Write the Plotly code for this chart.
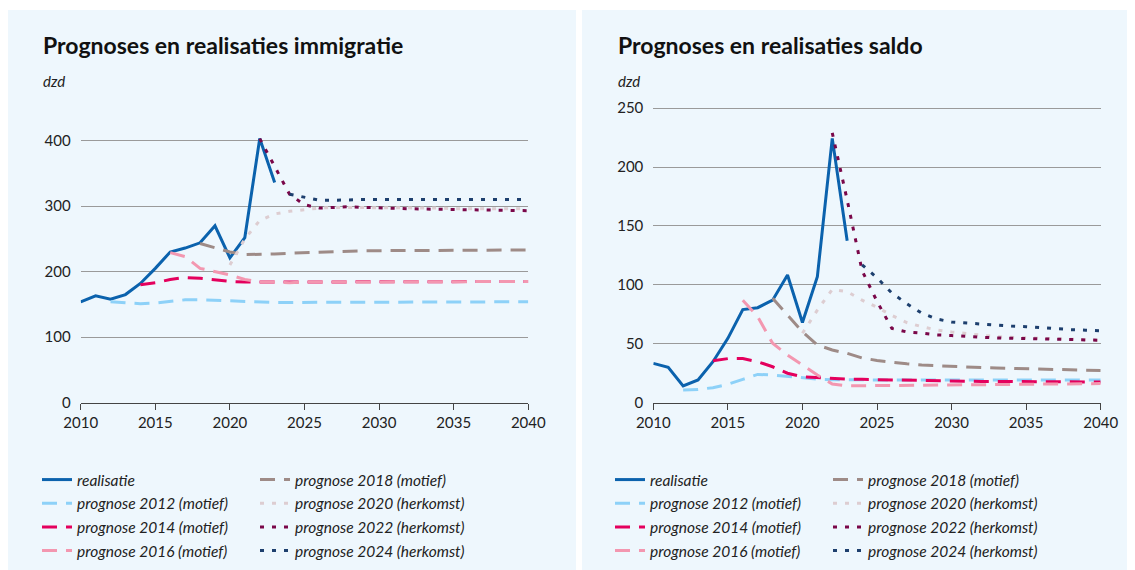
import plotly.graph_objects as go

W, H = 1135, 570
PAGE_OFFSET = 8  # the page body margin shifts the figure by 8px

years_real = list(range(2010, 2024))
imm_real = [154, 163, 158, 165, 182, 205, 230, 236, 244, 270, 221, 252, 403, 336]
sal_real = [33.4, 30, 14.2, 19.3, 34.8, 54.6, 79, 80.6, 87, 108.3, 68, 107, 224.3, 137.5]

# immigratie prognoses (dzd), first year = prognosis year, up to 2040
imm_2012 = [154, 153, 151, 152, 155, 157, 157, 156, 155, 154, 153, 153, 153, 153, 153, 153, 153,
            153, 153, 153, 153, 153, 153, 153, 154, 154, 154, 154, 154]
imm_2014 = [180, 183, 188, 191, 190, 187, 185, 184, 184, 184, 184, 185, 185, 185, 185, 185, 185,
            185, 185, 185, 185, 185, 185, 185, 185, 185, 185]
imm_2016 = [229, 223, 205, 200, 195, 188, 184, 184, 183, 184, 184, 184, 184, 184, 184, 184, 184,
            184, 184, 185, 185, 185, 185, 185, 185]
imm_2018 = [243, 236, 230, 226, 226, 227, 228, 229, 230, 231, 231.5, 232, 232, 232, 232.5, 232.5,
            233, 233, 233, 233, 233, 233, 233]
imm_2020 = [210, 250, 278, 288, 292, 295, 297, 298, 298, 298, 298, 297, 297, 297, 297, 296, 296,
            296, 296, 296, 296]
imm_2022 = [403, 360, 318, 302, 297, 298, 299, 298, 297, 296.5, 296, 295.5, 295, 294.5, 294, 294,
            293.5, 293, 293]
imm_2024 = [318, 313, 309, 309, 310, 310, 310, 310, 310, 310, 310, 310, 310, 310, 310, 310, 310]

# saldo prognoses (dzd)
sal_2012 = [10.8, 11.3, 12.7, 15.6, 19.8, 24, 23.5, 22.4, 21, 20, 19.5, 19.3, 19.3, 19.3, 19.3,
            19.3, 19.3, 19.3, 19.3, 19.3, 19.3, 19.3, 19.3, 19.3, 19.3, 19.3, 19.3, 19.3, 19.3]
sal_2014 = [35.6, 37.4, 37.4, 34.8, 30.5, 25, 22, 21.2, 20.6, 20, 19.8, 19.5, 19.3, 19, 18.8, 18.5,
            18.3, 18.2, 18, 18, 17.9, 17.8, 17.8, 17.7, 17.7, 17.6, 17.6]
sal_2016 = [87, 73, 50.4, 40.5, 32, 23.5, 15.9, 14.4, 14.4, 14.5, 14.6, 14.8, 15, 15.1, 15.2, 15.3,
            15.4, 15.5, 15.6, 15.7, 15.8, 15.9, 16, 16.1, 16.2]
sal_2018 = [88.6, 74.4, 60.2, 49, 44.7, 41.9, 38, 35.8, 34.3, 33, 32, 31.3, 30.8, 30.3, 29.8, 29.4,
            29, 28.6, 28.2, 28, 27.8, 27.6, 27.4]
sal_2020 = [58.9, 78.6, 96.2, 94.2, 87, 81, 74, 68, 64.5, 61.7, 60, 58.5, 57, 56, 55.5, 55, 54.6,
            54.2, 53.8, 53.4, 53]
sal_2022 = [229, 172, 112, 86, 63, 60, 59, 57.5, 57, 56, 55.5, 55, 54.7, 54.5, 54.2, 54, 53.7,
            53.4, 53]
sal_2024 = [117, 106, 93, 84, 76, 71, 68.5, 67.5, 67, 66, 65, 64.5, 63.5, 63, 62, 61.5, 61]

names = ["realisatie", "prognose 2012 (motief)", "prognose 2014 (motief)", "prognose 2016 (motief)",
         "prognose 2018 (motief)", "prognose 2020 (herkomst)", "prognose 2022 (herkomst)",
         "prognose 2024 (herkomst)"]
starts = [2010, 2012, 2014, 2016, 2018, 2020, 2022, 2024]
colors = ["#0b62ad", "#8dd1f8", "#e4005d", "#f397b0", "#9e8b87", "#ddcdd1", "#7a0749", "#1d3f6e"]
dashes = ["solid", "15px,9px", "15px,9px", "15px,9px", "15px,9px", "4px,8px", "4px,8px", "4px,8px"]

imm_series = [imm_real, imm_2012, imm_2014, imm_2016, imm_2018, imm_2020, imm_2022, imm_2024]
sal_series = [sal_real, sal_2012, sal_2014, sal_2016, sal_2018, sal_2020, sal_2022, sal_2024]

FONT = "Lato"
fig = go.Figure()

for panel, series in enumerate([imm_series, sal_series]):
    xa = "x" if panel == 0 else "x2"
    ya = "y" if panel == 0 else "y2"
    leg = ["legend", "legend2"] if panel == 0 else ["legend3", "legend4"]
    for i, vals in enumerate(series):
        yrs = list(range(starts[i], starts[i] + len(vals)))
        fig.add_trace(go.Scatter(
            x=yrs, y=vals, mode="lines", name=names[i],
            line=dict(color=colors[i], width=3, dash=dashes[i]),
            xaxis=xa, yaxis=ya,
            legend=leg[0] if i < 4 else leg[1],
            legendgroup=f"p{panel}g{i}",
            hoverinfo="skip",
        ))

# positions are given in page pixels and converted to paper fractions
def px_x(v):
    return (v - PAGE_OFFSET) / W

def px_y(v):
    return 1 - (v - PAGE_OFFSET) / H

axis_x = dict(range=[2010, 2040], tickvals=list(range(2010, 2041, 5)), showgrid=False,
              showline=True, linecolor="#444", linewidth=1, ticks="outside", ticklen=6,
              tickcolor="#444", tickfont=dict(family=FONT, size=15, color="#222"),
              zeroline=False, fixedrange=True, automargin=False)
axis_y = dict(showgrid=True, gridcolor="#9a9a9a", gridwidth=1, showline=False, ticks="",
              zeroline=False, tickfont=dict(family=FONT, size=15, color="#222"),
              ticklabelstandoff=9, fixedrange=True, automargin=False)

fig.update_layout(
    width=W, height=H,
    margin=dict(l=0, r=0, t=0, b=0, autoexpand=False),
    paper_bgcolor="white",
    plot_bgcolor="rgba(0,0,0,0)",
    xaxis=dict(axis_x, domain=[px_x(80.7), px_x(528.3)], anchor="y"),
    yaxis=dict(axis_y, domain=[px_y(402.7), px_y(120.9)], range=[0, 430],
               tickvals=[0, 100, 200, 300, 400], anchor="x"),
    xaxis2=dict(axis_x, domain=[px_x(653.3), px_x(1100.7)], anchor="y2"),
    yaxis2=dict(axis_y, domain=[px_y(402.7), px_y(90.4)], range=[0, 265],
                tickvals=[0, 50, 100, 150, 200, 250], anchor="x2"),
    shapes=[
        dict(type="rect", xref="paper", yref="paper", x0=px_x(8), x1=px_x(576), y0=0,
             y1=px_y(10), fillcolor="#eef7fd", line_width=0, layer="below"),
        dict(type="rect", xref="paper", yref="paper", x0=px_x(582), x1=1, y0=0,
             y1=px_y(10), fillcolor="#eef7fd", line_width=0, layer="below"),
    ],
    annotations=[
        dict(text="<b>Prognoses en realisaties immigratie</b>", x=px_x(41), y=px_y(61),
             xref="paper", yref="paper", xanchor="left", yanchor="bottom", showarrow=False,
             font=dict(family=FONT, size=23, color="#111")),
        dict(text="<i>dzd</i>", x=px_x(41), y=px_y(92), xref="paper", yref="paper",
             xanchor="left", yanchor="bottom", showarrow=False,
             font=dict(family=FONT, size=15, color="#222")),
        dict(text="<b>Prognoses en realisaties saldo</b>", x=px_x(616), y=px_y(61),
             xref="paper", yref="paper", xanchor="left", yanchor="bottom", showarrow=False,
             font=dict(family=FONT, size=23, color="#111")),
        dict(text="<i>dzd</i>", x=px_x(616), y=px_y(92), xref="paper", yref="paper",
             xanchor="left", yanchor="bottom", showarrow=False,
             font=dict(family=FONT, size=15, color="#222")),
    ],
)

leg_font = dict(family=FONT, size=15.5, style="italic", color="#222")
leg_base = dict(yanchor="top", y=px_y(463), xanchor="left", bgcolor="rgba(0,0,0,0)",
                font=leg_font, tracegroupgap=0.5, itemwidth=30)
fig.update_layout(
    legend=dict(leg_base, x=px_x(37)),
    legend2=dict(leg_base, x=px_x(255)),
    legend3=dict(leg_base, x=px_x(610)),
    legend4=dict(leg_base, x=px_x(828)),
)

fig.write_html("out.html")
